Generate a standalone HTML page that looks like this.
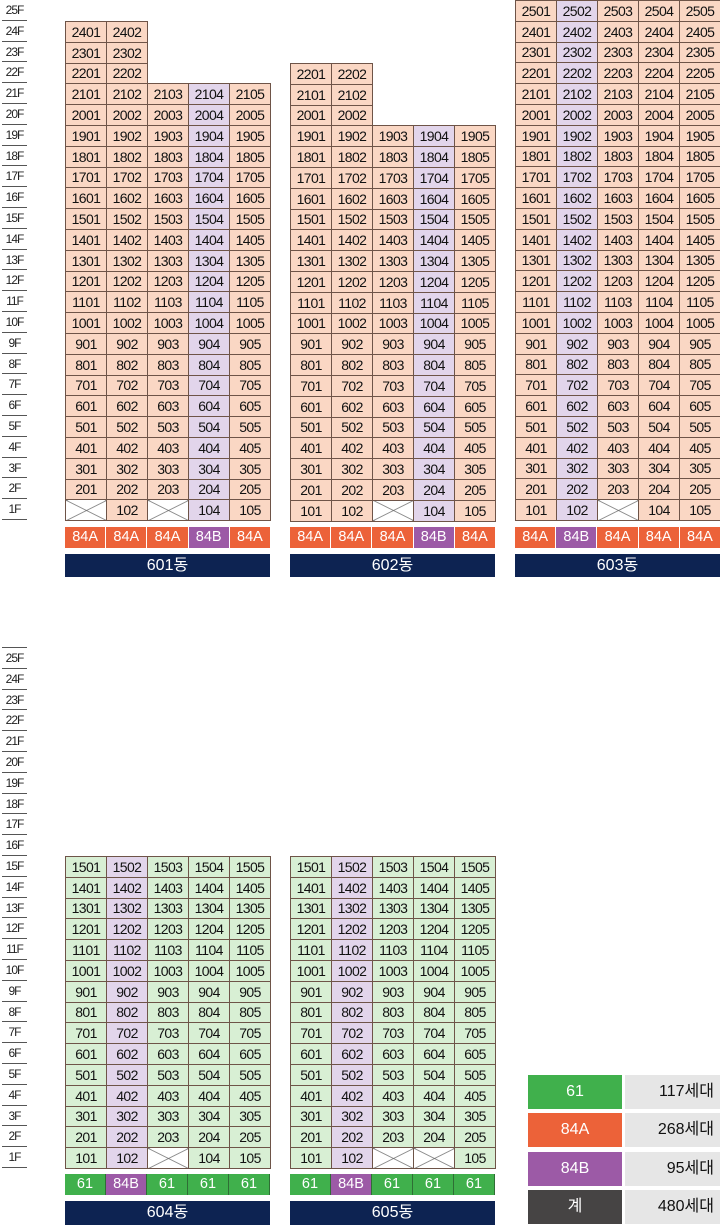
<!DOCTYPE html>
<html><head><meta charset="utf-8"><style>
*{margin:0;padding:0;box-sizing:border-box}
body{width:720px;height:1225px;position:relative;background:#fff;font-family:"Liberation Sans","Noto Sans CJK KR",sans-serif;overflow:hidden}
.fl{position:absolute;left:2px;width:25px}
.fl div{height:20.8px;border-bottom:1px solid #555;font-size:12px;letter-spacing:-1px;text-align:center;line-height:21px;color:#222}
.fl.t{border-top:1px solid #555}
table{position:absolute;border-collapse:collapse;table-layout:fixed;width:205px}
td{width:41px;height:20.8px;border:1px solid #6e5448;background:#fad7c4;font-size:14px;letter-spacing:-0.6px;text-align:center;color:#111;padding:0;line-height:18px}
td.e{border:none;background:none}
td.p{background:#e2d5eb}
td.g{background:#d8efd4}
td.x{background:linear-gradient(to top right,transparent calc(50% - .7px),#666 50%,transparent calc(50% + .7px)),linear-gradient(to bottom right,transparent calc(50% - .7px),#666 50%,transparent calc(50% + .7px)),#fff}
.ty{position:absolute;display:flex;width:205px;height:21px}
.ty div{flex:1;color:#fff;font-size:14.5px;text-align:center;line-height:21px;border-right:1px solid #fff}
.ty div:last-child{border-right:none}
.A{background:#ec6239}.B{background:#9c5aa6}.S{background:#40b04c}
.ty.g div{border-right:1px solid #2f6e35}
.nm{position:absolute;width:205px;height:23px;background:#0d2352;color:#fff;font-size:16px;text-align:center;line-height:24px}
.lg{position:absolute;left:528px;width:192px;height:34px;display:flex}
.lg div:first-child{width:94px;color:#fff;font-size:16px;text-align:center;line-height:34px}
.lg div:last-child{margin-left:3px;flex:1;background:#e6e6e6;color:#111;font-size:16px;text-align:right;padding-right:6px;line-height:34px}
</style></head><body>

<div class="fl" style="top:0"><div>25F</div><div>24F</div><div>23F</div><div>22F</div><div>21F</div><div>20F</div><div>19F</div><div>18F</div><div>17F</div><div>16F</div><div>15F</div><div>14F</div><div>13F</div><div>12F</div><div>11F</div><div>10F</div><div>9F</div><div>8F</div><div>7F</div><div>6F</div><div>5F</div><div>4F</div><div>3F</div><div>2F</div><div>1F</div></div>
<div class="fl t" style="top:647px"><div>25F</div><div>24F</div><div>23F</div><div>22F</div><div>21F</div><div>20F</div><div>19F</div><div>18F</div><div>17F</div><div>16F</div><div>15F</div><div>14F</div><div>13F</div><div>12F</div><div>11F</div><div>10F</div><div>9F</div><div>8F</div><div>7F</div><div>6F</div><div>5F</div><div>4F</div><div>3F</div><div>2F</div><div>1F</div></div>

<!-- 601 -->
<table style="left:65px;top:21px">
<tr><td>2401</td><td>2402</td><td class="e"></td><td class="e"></td><td class="e"></td></tr>
<tr><td>2301</td><td>2302</td><td class="e"></td><td class="e"></td><td class="e"></td></tr>
<tr><td>2201</td><td>2202</td><td class="e"></td><td class="e"></td><td class="e"></td></tr>
<tr><td>2101</td><td>2102</td><td>2103</td><td class="p">2104</td><td>2105</td></tr>
<tr><td>2001</td><td>2002</td><td>2003</td><td class="p">2004</td><td>2005</td></tr>
<tr><td>1901</td><td>1902</td><td>1903</td><td class="p">1904</td><td>1905</td></tr>
<tr><td>1801</td><td>1802</td><td>1803</td><td class="p">1804</td><td>1805</td></tr>
<tr><td>1701</td><td>1702</td><td>1703</td><td class="p">1704</td><td>1705</td></tr>
<tr><td>1601</td><td>1602</td><td>1603</td><td class="p">1604</td><td>1605</td></tr>
<tr><td>1501</td><td>1502</td><td>1503</td><td class="p">1504</td><td>1505</td></tr>
<tr><td>1401</td><td>1402</td><td>1403</td><td class="p">1404</td><td>1405</td></tr>
<tr><td>1301</td><td>1302</td><td>1303</td><td class="p">1304</td><td>1305</td></tr>
<tr><td>1201</td><td>1202</td><td>1203</td><td class="p">1204</td><td>1205</td></tr>
<tr><td>1101</td><td>1102</td><td>1103</td><td class="p">1104</td><td>1105</td></tr>
<tr><td>1001</td><td>1002</td><td>1003</td><td class="p">1004</td><td>1005</td></tr>
<tr><td>901</td><td>902</td><td>903</td><td class="p">904</td><td>905</td></tr>
<tr><td>801</td><td>802</td><td>803</td><td class="p">804</td><td>805</td></tr>
<tr><td>701</td><td>702</td><td>703</td><td class="p">704</td><td>705</td></tr>
<tr><td>601</td><td>602</td><td>603</td><td class="p">604</td><td>605</td></tr>
<tr><td>501</td><td>502</td><td>503</td><td class="p">504</td><td>505</td></tr>
<tr><td>401</td><td>402</td><td>403</td><td class="p">404</td><td>405</td></tr>
<tr><td>301</td><td>302</td><td>303</td><td class="p">304</td><td>305</td></tr>
<tr><td>201</td><td>202</td><td>203</td><td class="p">204</td><td>205</td></tr>
<tr><td class="x"></td><td>102</td><td class="x"></td><td class="p">104</td><td>105</td></tr>
</table>
<div class="ty" style="left:65px;top:527px"><div class="A">84A</div><div class="A">84A</div><div class="A">84A</div><div class="B">84B</div><div class="A">84A</div></div>
<div class="nm" style="left:65px;top:554px">601동</div>

<!-- 602 -->
<table style="left:290px;top:63px">
<tr><td>2201</td><td>2202</td><td class="e"></td><td class="e"></td><td class="e"></td></tr>
<tr><td>2101</td><td>2102</td><td class="e"></td><td class="e"></td><td class="e"></td></tr>
<tr><td>2001</td><td>2002</td><td class="e"></td><td class="e"></td><td class="e"></td></tr>
<tr><td>1901</td><td>1902</td><td>1903</td><td class="p">1904</td><td>1905</td></tr>
<tr><td>1801</td><td>1802</td><td>1803</td><td class="p">1804</td><td>1805</td></tr>
<tr><td>1701</td><td>1702</td><td>1703</td><td class="p">1704</td><td>1705</td></tr>
<tr><td>1601</td><td>1602</td><td>1603</td><td class="p">1604</td><td>1605</td></tr>
<tr><td>1501</td><td>1502</td><td>1503</td><td class="p">1504</td><td>1505</td></tr>
<tr><td>1401</td><td>1402</td><td>1403</td><td class="p">1404</td><td>1405</td></tr>
<tr><td>1301</td><td>1302</td><td>1303</td><td class="p">1304</td><td>1305</td></tr>
<tr><td>1201</td><td>1202</td><td>1203</td><td class="p">1204</td><td>1205</td></tr>
<tr><td>1101</td><td>1102</td><td>1103</td><td class="p">1104</td><td>1105</td></tr>
<tr><td>1001</td><td>1002</td><td>1003</td><td class="p">1004</td><td>1005</td></tr>
<tr><td>901</td><td>902</td><td>903</td><td class="p">904</td><td>905</td></tr>
<tr><td>801</td><td>802</td><td>803</td><td class="p">804</td><td>805</td></tr>
<tr><td>701</td><td>702</td><td>703</td><td class="p">704</td><td>705</td></tr>
<tr><td>601</td><td>602</td><td>603</td><td class="p">604</td><td>605</td></tr>
<tr><td>501</td><td>502</td><td>503</td><td class="p">504</td><td>505</td></tr>
<tr><td>401</td><td>402</td><td>403</td><td class="p">404</td><td>405</td></tr>
<tr><td>301</td><td>302</td><td>303</td><td class="p">304</td><td>305</td></tr>
<tr><td>201</td><td>202</td><td>203</td><td class="p">204</td><td>205</td></tr>
<tr><td>101</td><td>102</td><td class="x"></td><td class="p">104</td><td>105</td></tr>
</table>
<div class="ty" style="left:290px;top:527px"><div class="A">84A</div><div class="A">84A</div><div class="A">84A</div><div class="B">84B</div><div class="A">84A</div></div>
<div class="nm" style="left:290px;top:554px">602동</div>

<!-- 603 -->
<table style="left:515px;top:0">
<tr><td>2501</td><td class="p">2502</td><td>2503</td><td>2504</td><td>2505</td></tr>
<tr><td>2401</td><td class="p">2402</td><td>2403</td><td>2404</td><td>2405</td></tr>
<tr><td>2301</td><td class="p">2302</td><td>2303</td><td>2304</td><td>2305</td></tr>
<tr><td>2201</td><td class="p">2202</td><td>2203</td><td>2204</td><td>2205</td></tr>
<tr><td>2101</td><td class="p">2102</td><td>2103</td><td>2104</td><td>2105</td></tr>
<tr><td>2001</td><td class="p">2002</td><td>2003</td><td>2004</td><td>2005</td></tr>
<tr><td>1901</td><td class="p">1902</td><td>1903</td><td>1904</td><td>1905</td></tr>
<tr><td>1801</td><td class="p">1802</td><td>1803</td><td>1804</td><td>1805</td></tr>
<tr><td>1701</td><td class="p">1702</td><td>1703</td><td>1704</td><td>1705</td></tr>
<tr><td>1601</td><td class="p">1602</td><td>1603</td><td>1604</td><td>1605</td></tr>
<tr><td>1501</td><td class="p">1502</td><td>1503</td><td>1504</td><td>1505</td></tr>
<tr><td>1401</td><td class="p">1402</td><td>1403</td><td>1404</td><td>1405</td></tr>
<tr><td>1301</td><td class="p">1302</td><td>1303</td><td>1304</td><td>1305</td></tr>
<tr><td>1201</td><td class="p">1202</td><td>1203</td><td>1204</td><td>1205</td></tr>
<tr><td>1101</td><td class="p">1102</td><td>1103</td><td>1104</td><td>1105</td></tr>
<tr><td>1001</td><td class="p">1002</td><td>1003</td><td>1004</td><td>1005</td></tr>
<tr><td>901</td><td class="p">902</td><td>903</td><td>904</td><td>905</td></tr>
<tr><td>801</td><td class="p">802</td><td>803</td><td>804</td><td>805</td></tr>
<tr><td>701</td><td class="p">702</td><td>703</td><td>704</td><td>705</td></tr>
<tr><td>601</td><td class="p">602</td><td>603</td><td>604</td><td>605</td></tr>
<tr><td>501</td><td class="p">502</td><td>503</td><td>504</td><td>505</td></tr>
<tr><td>401</td><td class="p">402</td><td>403</td><td>404</td><td>405</td></tr>
<tr><td>301</td><td class="p">302</td><td>303</td><td>304</td><td>305</td></tr>
<tr><td>201</td><td class="p">202</td><td>203</td><td>204</td><td>205</td></tr>
<tr><td>101</td><td class="p">102</td><td class="x"></td><td>104</td><td>105</td></tr>
</table>
<div class="ty" style="left:515px;top:527px"><div class="A">84A</div><div class="B">84B</div><div class="A">84A</div><div class="A">84A</div><div class="A">84A</div></div>
<div class="nm" style="left:515px;top:554px">603동</div>

<!-- 604 -->
<table style="left:65px;top:856px">
<tr><td class="g">1501</td><td class="p">1502</td><td class="g">1503</td><td class="g">1504</td><td class="g">1505</td></tr>
<tr><td class="g">1401</td><td class="p">1402</td><td class="g">1403</td><td class="g">1404</td><td class="g">1405</td></tr>
<tr><td class="g">1301</td><td class="p">1302</td><td class="g">1303</td><td class="g">1304</td><td class="g">1305</td></tr>
<tr><td class="g">1201</td><td class="p">1202</td><td class="g">1203</td><td class="g">1204</td><td class="g">1205</td></tr>
<tr><td class="g">1101</td><td class="p">1102</td><td class="g">1103</td><td class="g">1104</td><td class="g">1105</td></tr>
<tr><td class="g">1001</td><td class="p">1002</td><td class="g">1003</td><td class="g">1004</td><td class="g">1005</td></tr>
<tr><td class="g">901</td><td class="p">902</td><td class="g">903</td><td class="g">904</td><td class="g">905</td></tr>
<tr><td class="g">801</td><td class="p">802</td><td class="g">803</td><td class="g">804</td><td class="g">805</td></tr>
<tr><td class="g">701</td><td class="p">702</td><td class="g">703</td><td class="g">704</td><td class="g">705</td></tr>
<tr><td class="g">601</td><td class="p">602</td><td class="g">603</td><td class="g">604</td><td class="g">605</td></tr>
<tr><td class="g">501</td><td class="p">502</td><td class="g">503</td><td class="g">504</td><td class="g">505</td></tr>
<tr><td class="g">401</td><td class="p">402</td><td class="g">403</td><td class="g">404</td><td class="g">405</td></tr>
<tr><td class="g">301</td><td class="p">302</td><td class="g">303</td><td class="g">304</td><td class="g">305</td></tr>
<tr><td class="g">201</td><td class="p">202</td><td class="g">203</td><td class="g">204</td><td class="g">205</td></tr>
<tr><td class="g">101</td><td class="p">102</td><td class="x"></td><td class="g">104</td><td class="g">105</td></tr>
</table>
<div class="ty g" style="left:65px;top:1174px"><div class="S">61</div><div class="B">84B</div><div class="S">61</div><div class="S">61</div><div class="S">61</div></div>
<div class="nm" style="left:65px;top:1201px;height:24px">604동</div>

<!-- 605 -->
<table style="left:290px;top:856px">
<tr><td class="g">1501</td><td class="p">1502</td><td class="g">1503</td><td class="g">1504</td><td class="g">1505</td></tr>
<tr><td class="g">1401</td><td class="p">1402</td><td class="g">1403</td><td class="g">1404</td><td class="g">1405</td></tr>
<tr><td class="g">1301</td><td class="p">1302</td><td class="g">1303</td><td class="g">1304</td><td class="g">1305</td></tr>
<tr><td class="g">1201</td><td class="p">1202</td><td class="g">1203</td><td class="g">1204</td><td class="g">1205</td></tr>
<tr><td class="g">1101</td><td class="p">1102</td><td class="g">1103</td><td class="g">1104</td><td class="g">1105</td></tr>
<tr><td class="g">1001</td><td class="p">1002</td><td class="g">1003</td><td class="g">1004</td><td class="g">1005</td></tr>
<tr><td class="g">901</td><td class="p">902</td><td class="g">903</td><td class="g">904</td><td class="g">905</td></tr>
<tr><td class="g">801</td><td class="p">802</td><td class="g">803</td><td class="g">804</td><td class="g">805</td></tr>
<tr><td class="g">701</td><td class="p">702</td><td class="g">703</td><td class="g">704</td><td class="g">705</td></tr>
<tr><td class="g">601</td><td class="p">602</td><td class="g">603</td><td class="g">604</td><td class="g">605</td></tr>
<tr><td class="g">501</td><td class="p">502</td><td class="g">503</td><td class="g">504</td><td class="g">505</td></tr>
<tr><td class="g">401</td><td class="p">402</td><td class="g">403</td><td class="g">404</td><td class="g">405</td></tr>
<tr><td class="g">301</td><td class="p">302</td><td class="g">303</td><td class="g">304</td><td class="g">305</td></tr>
<tr><td class="g">201</td><td class="p">202</td><td class="g">203</td><td class="g">204</td><td class="g">205</td></tr>
<tr><td class="g">101</td><td class="p">102</td><td class="x"></td><td class="x"></td><td class="g">105</td></tr>
</table>
<div class="ty g" style="left:290px;top:1174px"><div class="S">61</div><div class="B">84B</div><div class="S">61</div><div class="S">61</div><div class="S">61</div></div>
<div class="nm" style="left:290px;top:1201px;height:24px">605동</div>

<!-- legend -->
<div class="lg" style="top:1075px"><div class="S">61</div><div>117세대</div></div>
<div class="lg" style="top:1113px"><div class="A">84A</div><div>268세대</div></div>
<div class="lg" style="top:1152px"><div class="B">84B</div><div>95세대</div></div>
<div class="lg" style="top:1190px"><div style="background:#464444">계</div><div>480세대</div></div>
</body></html>
